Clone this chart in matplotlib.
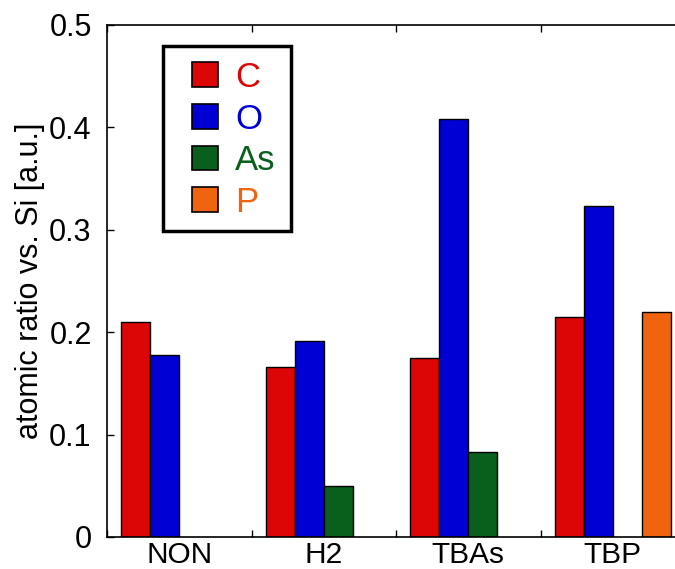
import matplotlib.pyplot as plt
from matplotlib.patches import Patch, Rectangle
import numpy as np

plt.rcParams['font.family'] = ['Liberation Sans', 'DejaVu Sans']

# Data
samples = ['NON', 'H2', 'TBAs', 'TBP']
elements = ['C', 'O', 'As', 'P']
C = [0.210, 0.166, 0.1745, 0.2145]
O = [0.178, 0.191, 0.408, 0.323]
As = [0.0, 0.0495, 0.0827, 0.0]
P = [0.0, 0.0, 0.0, 0.2194]
colors = ['#dd0606', '#0000d4', '#08601c', '#f06410']

W, H = 675, 569
fig = plt.figure(figsize=(W / 100, H / 100), dpi=100)
ax = fig.add_axes([107 / W, 1 - 537 / H, 578 / W, 512 / H])

x = np.arange(len(samples))
width = 0.2
for i, (vals, col) in enumerate(zip([C, O, As, P], colors)):
    for xi, v in zip(x, vals):
        if v > 0:
            ax.bar(xi + 0.1 + i * width, v, width, align='edge',
                   color=col, edgecolor='black', linewidth=1)

ax.set_xlim(0, 4)
ax.set_ylim(0, 0.5)
ax.set_yticks([0, 0.1, 0.2, 0.3, 0.4, 0.5])
ax.set_yticklabels(['0', '0.1', '0.2', '0.3', '0.4', '0.5'])
ax.set_xticks([0, 1, 2, 3, 4])
ax.set_xticklabels([])
ax.set_xticks(x + 0.5, minor=True)
ax.set_xticklabels(samples, minor=True)
ax.tick_params(axis='both', which='major', direction='in', length=5,
               labelsize=22, top=True, right=False, width=1)
ax.tick_params(axis='y', pad=11)
ax.tick_params(axis='x', which='minor', length=0, labelsize=21.5, pad=3)
ax.set_ylabel('atomic ratio vs. Si [a.u.]', fontsize=22, labelpad=3)
ax.spines['right'].set_visible(False)
for s in ax.spines.values():
    s.set_linewidth(1.2)

# legend: handles + coloured labels, frame drawn separately
handles = [Patch(facecolor=c, edgecolor='black', linewidth=1.2) for c in colors]
leg = ax.legend(handles, elements, loc='upper left',
                bbox_to_anchor=(192 / W, 1 - 61 / H),
                bbox_transform=fig.transFigure, fontsize=25,
                frameon=False, handlelength=0.75, handleheight=0.72,
                handletextpad=0.5, labelspacing=0.245, borderpad=0,
                borderaxespad=0)
for t, c in zip(leg.get_texts(), colors):
    t.set_color(c)
fig.patches.append(Rectangle((163 / W, 1 - 231 / H), 128 / W, 185 / H,
                             transform=fig.transFigure, fill=False,
                             edgecolor='black', linewidth=2.5))

fig.savefig('out.png', dpi=100)
